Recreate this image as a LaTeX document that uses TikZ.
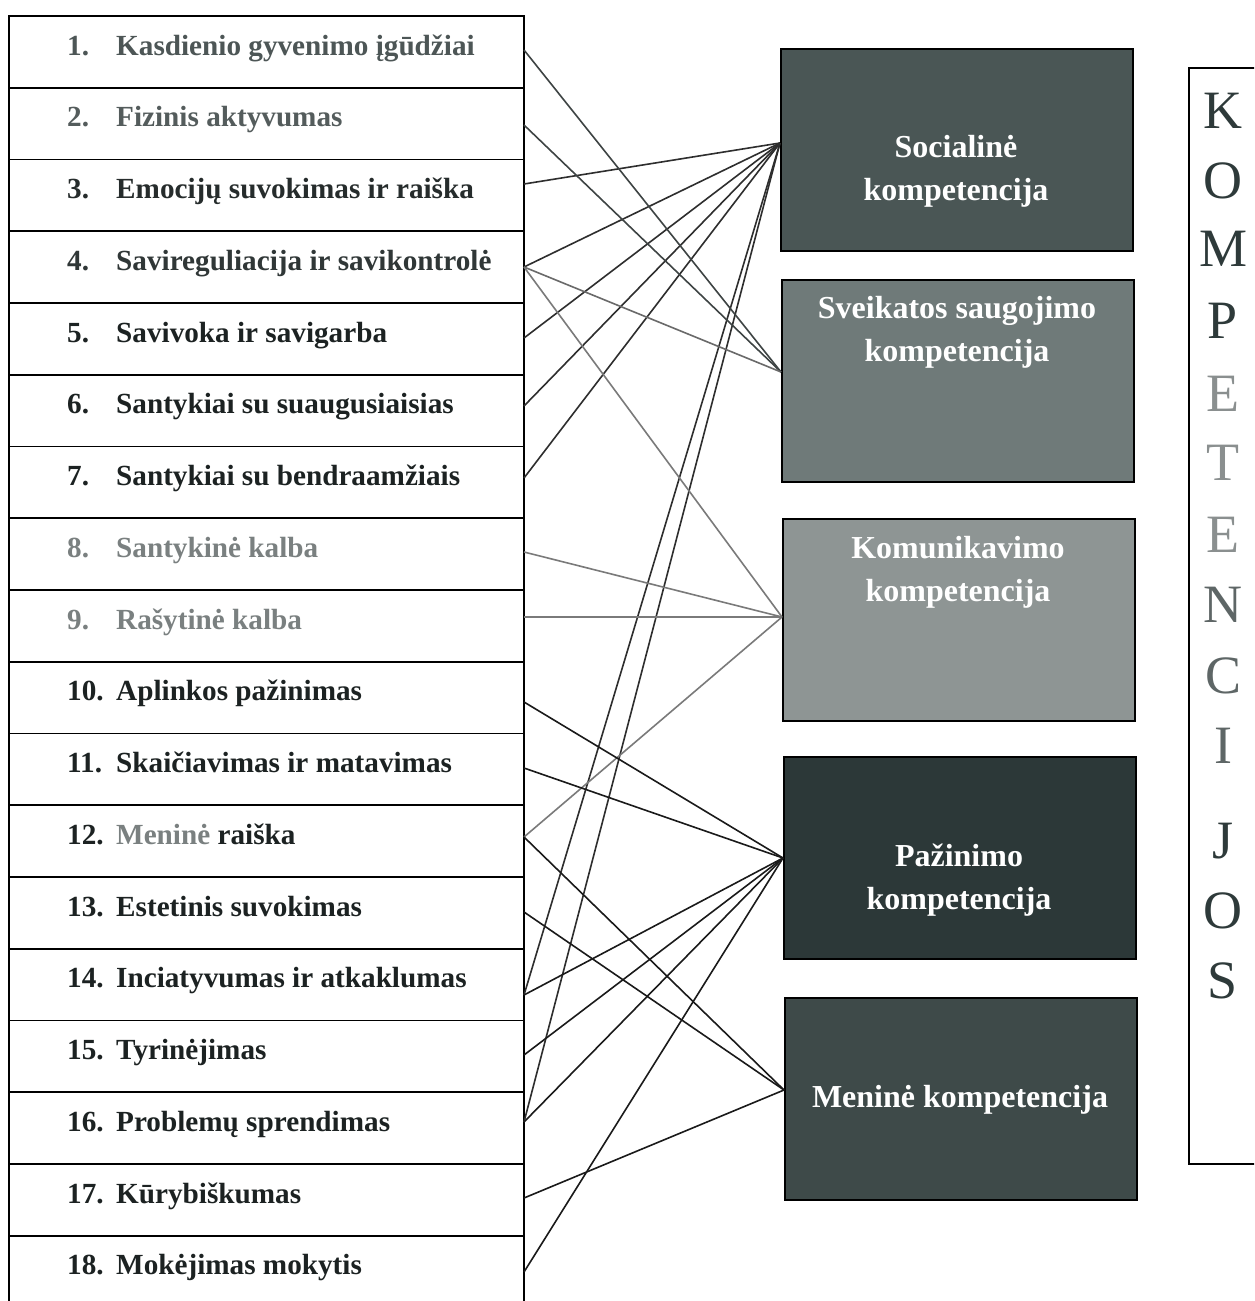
\documentclass[tikz,border=0pt]{standalone}
\usepackage{fontspec}
\setmainfont{Liberation Serif}
\definecolor{socfill}{HTML}{4A5655}
\definecolor{svkfill}{HTML}{6F7A79}
\definecolor{komfill}{HTML}{8E9594}
\definecolor{pazfill}{HTML}{2C3838}
\definecolor{menfill}{HTML}{3E4A49}
\definecolor{tdark}{HTML}{1C2222}
\definecolor{tmid}{HTML}{4D5656}
\definecolor{tlight}{HTML}{7A8080}
\definecolor{ldark}{HTML}{1A1A1A}
\definecolor{lsoc}{HTML}{2E2E2E}
\definecolor{lsvk}{HTML}{3E4444}
\definecolor{lgray}{HTML}{6A6A6A}
\definecolor{lkom}{HTML}{7A7A7A}
\definecolor{kdark}{HTML}{2E3A3A}
\definecolor{kmid}{HTML}{5E6666}
\definecolor{klight}{HTML}{8A8F8F}
\begin{document}
\begin{tikzpicture}[x=1pt,y=-1pt,
  item/.style={anchor=base west, inner sep=0pt, font=\fontsize{29.2}{34}\selectfont\bfseries},
  compbox/.style={draw=black, line width=2pt, anchor=north west, inner sep=0pt, minimum width=352pt, minimum height=202pt},
  ctext/.style={anchor=base, inner sep=0pt, text=white, font=\fontsize{32}{38}\selectfont\bfseries},
  letter/.style={anchor=base, inner sep=0pt, font=\fontsize{54}{60}\selectfont},
  link/.style={line width=1.6pt},
  rowline/.style={line width=1.8pt}]
\useasboundingbox (0,0) rectangle (1254,1301);
\clip (0,0) rectangle (1254,1301);
\fill[white] (0,0) rectangle (1254,1301);

% left list frame
\draw[rowline] (9,1320) -- (9,16) -- (524,16) -- (524,1320);
\foreach \i in {1,...,17} {
  \draw[rowline] (9,{16+71.75*\i}) -- (524,{16+71.75*\i});
}

% list items
\foreach \i/\txt/\col in {
  1/Kasdienio gyvenimo įgūdžiai/tmid,
  2/Fizinis aktyvumas/tmid!85!tlight,
  3/Emocijų suvokimas ir raiška/tdark!80!tmid,
  4/Savireguliacija ir savikontrolė/tdark!60!tmid,
  5/Savivoka ir savigarba/tdark,
  6/Santykiai su suaugusiaisias/tdark,
  7/Santykiai su bendraamžiais/tdark,
  8/Santykinė kalba/tlight,
  9/Rašytinė kalba/tlight,
  10/Aplinkos pažinimas/tdark,
  11/Skaičiavimas ir matavimas/tdark,
  13/Estetinis suvokimas/tdark,
  14/Inciatyvumas ir atkaklumas/tdark,
  15/Tyrinėjimas/tdark,
  16/Problemų sprendimas/tdark,
  17/Kūrybiškumas/tdark,
  18/Mokėjimas mokytis/tdark} {
  \node[item, text=\col] (num\i) at (67,{16+71.75*(\i-1)+39}) {\i.};
  \node[item, text=\col] (txt\i) at (116,{16+71.75*(\i-1)+39}) {\txt};
}
\node[item, text=tdark] (num12) at (67,{16+71.75*11+39}) {12.};
\node[item, text=tdark] (txt12) at (116,{16+71.75*11+39}) {\textcolor{tlight}{Meninė} raiška};

% competence boxes
\node[compbox, fill=socfill] (soc) at (780,48) {};
\node[compbox, fill=svkfill] (svk) at (781,279) {};
\node[compbox, fill=komfill] (kom) at (782,518) {};
\node[compbox, fill=pazfill] (paz) at (783,756) {};
\node[compbox, fill=menfill] (men) at (784,997) {};

\node[ctext] (soc1) at (956,157) {Socialinė};
\node[ctext] (soc2) at (956,200) {kompetencija};
\node[ctext] (svk1) at (957,318) {Sveikatos saugojimo};
\node[ctext] (svk2) at (957,361) {kompetencija};
\node[ctext] (kom1) at (958,558) {Komunikavimo};
\node[ctext] (kom2) at (958,601) {kompetencija};
\node[ctext] (paz1) at (959,866) {Pažinimo};
\node[ctext] (paz2) at (959,909) {kompetencija};
\node[ctext] (men1) at (960,1107) {Meninė kompetencija};

% ports
\coordinate (socp) at (780,143);
\coordinate (svkp) at (781,372);
\coordinate (komp) at (782,617);
\coordinate (pazp) at (783,858);
\coordinate (menp) at (784,1090);
\foreach \i/\y in {1/50,2/125,3/184,4/267,5/338,6/406,7/478,8/552,9/617,10/702,
                   11/768,12/837,13/912,14/995,15/1055,16/1122,17/1198,18/1272} {
  \coordinate (p\i) at (524,\y);
}

% connectors
\foreach \i in {3,4,5,6,7,14,16} { \draw[link, lsoc] (p\i) -- (socp); }
\foreach \i in {1,2} { \draw[link, lsvk] (p\i) -- (svkp); }
\draw[link, lgray] (p4) -- (svkp);
\foreach \i in {4,8,9,12} { \draw[link, lkom] (p\i) -- (komp); }
\foreach \i in {10,11,14,15,16,18} { \draw[link, ldark] (p\i) -- (pazp); }
\foreach \i in {12,13,17} { \draw[link, ldark] (p\i) -- (menp); }

% KOMPETENCIJOS box
\node[draw=black, line width=2pt, anchor=north west, inner sep=0pt,
      minimum width=150pt, minimum height=1096pt] (kframe) at (1188,67) {};
\foreach \n/\ch/\y/\col in {1/K/128/kdark, 2/O/198/kdark, 3/M/266/kdark, 4/P/338/kdark,
    5/E/411/klight, 6/T/480/klight, 7/E/552/klight, 8/N/622/kmid, 9/C/693/kmid,
    10/I/763/kmid, 11/J/858/kdark, 12/O/928/kdark, 13/S/998/kdark} {
  \node[letter, text=\col] (l\n) at (1223,\y) {\ch};
}
\end{tikzpicture}
\end{document}
